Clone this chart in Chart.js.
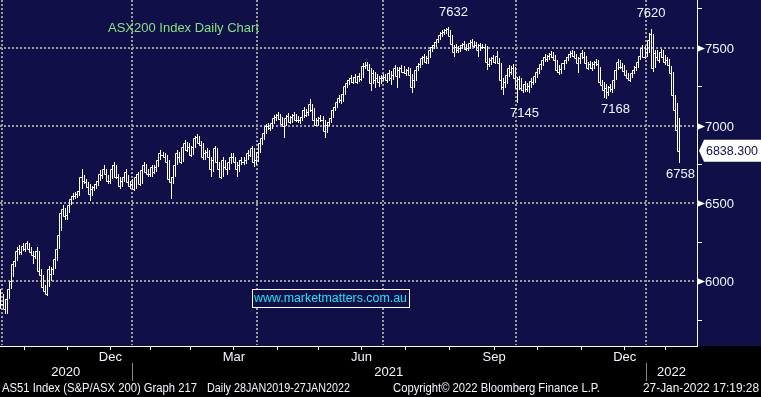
<!DOCTYPE html>
<html><head><meta charset="utf-8">
<script src="https://cdn.jsdelivr.net/npm/chart.js@4"></script>
<style>html,body{margin:0;padding:0;background:#000;}canvas{display:block;}</style>
</head><body>
<canvas id="c" width="761" height="397"></canvas>
<script>
// ---------- DATA ----------
const chartTitle = 'ASX200 Index Daily Chart';
const websiteText = 'www.marketmatters.com.au';
const footerLeft = 'AS51 Index (S&P/ASX 200) Graph 217';
const footerDaily = 'Daily 28JAN2019-27JAN2022';
const footerMid = 'Copyright\u00A9 2022 Bloomberg Finance L.P.';
const footerRight = '27-Jan-2022 17:19:28';

// months covered (Oct 2020 .. Jan 2022), number of ASX trading days each
const monthNames = ['Oct','Nov','Dec','Jan','Feb','Mar','Apr','May','Jun','Jul','Aug','Sep','Oct','Nov','Dec','Jan'];
const monthLabels = ['', '', 'Dec', '', '', 'Mar', '', '', 'Jun', '', '', 'Sep', '', '', 'Dec', ''];
const monthTradingDays = [22,21,21,19,20,23,20,21,21,22,22,22,21,22,21,19];
const yearLabels = ['2020','2021','2022'];
const yTickLabels = [6000, 6500, 7000, 7500];
const yMinorTicks = [5750, 6250, 6750, 7250, 7750];

// daily closes, 30 Sep 2020 .. 27 Jan 2022
const closes = [
5885,5853,5821,5885,5949,6000,6109,6128,6192,6205,6186,6224,6205,6244,6205,6186,6167,6160,6192,6064,6038,5962,5936,
5917,6077,6045,6077,6141,6205,6295,6436,6462,6417,6423,6487,6526,6545,6545,6558,6577,6667,6641,6635,6603,
6558,6590,6603,6622,6641,6692,6680,6718,6686,6641,6647,6718,6750,6673,6667,6609,6641,6673,6705,6635,6615,
6628,6596,6673,6686,6622,6712,6750,6705,6686,6686,6737,6705,6737,6782,6827,6814,6801,6769,6654,
6635,6673,6750,6827,6795,6769,6865,6891,6846,6865,6814,6865,6923,6929,6891,6878,6795,6827,6833,6795,
6718,6782,6853,6763,6718,6667,6782,6737,6718,6763,6795,6795,6769,6718,6750,6782,6769,6782,6821,6814,6853,6769,6782,
6833,6891,6923,6955,7000,6994,6987,7019,7051,7058,7071,7045,7013,7000,7051,7064,7026,7058,7071,7038,
7038,7038,7058,7103,7071,7090,7141,7103,7038,7006,7038,7051,7038,6962,7006,7026,7051,7103,7122,7154,7180,
7167,7205,7256,7276,7295,7308,7282,7314,7282,7320,7301,7385,7385,7391,7359,7276,7340,7295,7308,7282,7308,
7308,7314,7295,7340,7308,7327,7372,7320,7359,7372,7346,7340,7359,7327,7250,7295,7359,7385,7397,7436,7442,7410,
7436,7487,7506,7519,7538,7558,7583,7596,7603,7615,7622,7577,7526,7474,7506,7487,7500,7519,7526,7494,7500,7532,
7538,7513,7519,7487,7519,7506,7506,7410,7397,7423,7436,7410,7449,7404,7295,7250,7282,7327,7372,7346,7372,7308,
7244,7301,7244,7231,7269,7237,7256,7288,7282,7320,7346,7372,7397,7423,7442,7429,7449,7462,7442,7423,7359,
7346,7365,7404,7423,7442,7462,7468,7449,7436,7404,7436,7468,7442,7404,7372,7397,7372,7397,7410,7397,7282,7263,
7231,7244,7218,7250,7237,7295,7359,7410,7378,7378,7353,7327,7308,7295,7340,7359,7378,7410,7449,7500,7442,
7474,7551,7590,7372,7468,7442,7423,7474,7442,7410,7423,7391,7340,7199,7103,6974,6838.3
];
const highs = [
5949,5917,5885,5936,5962,6038,6128,6154,6218,6231,6218,6244,6231,6256,6244,6218,6192,6192,6218,6192,6077,6038,5974,
5962,6096,6090,6103,6154,6218,6308,6442,6487,6474,6449,6500,6545,6564,6571,6583,6596,6718,6680,6654,6635,
6622,6615,6628,6647,6667,6712,6705,6750,6718,6680,6680,6744,6763,6750,6692,6667,6654,6686,6718,6680,6641,
6654,6635,6686,6705,6692,6731,6769,6756,6718,6718,6750,6744,6756,6795,6840,6833,6821,6808,6782,
6667,6692,6763,6840,6833,6808,6878,6910,6897,6885,6872,6878,6936,6949,6936,6904,6885,6846,6859,6846,
6795,6801,6872,6859,6769,6731,6795,6782,6750,6782,6827,6821,6801,6769,6782,6801,6801,6808,6840,6840,6872,6859,6821,
6859,6910,6949,6974,7013,7019,7013,7038,7071,7077,7090,7077,7058,7038,7071,7083,7064,7077,7090,7077,
7064,7058,7077,7122,7109,7109,7173,7141,7115,7051,7058,7071,7064,7038,7026,7051,7071,7122,7141,7173,7199,
7192,7218,7269,7295,7308,7327,7314,7333,7320,7340,7359,7404,7410,7410,7397,7372,7359,7346,7333,7320,7327,
7333,7333,7327,7359,7353,7346,7391,7378,7378,7391,7385,7365,7378,7372,7333,7314,7378,7404,7417,7449,7462,7449,
7455,7506,7519,7538,7551,7577,7603,7615,7622,7628,7632,7615,7583,7519,7526,7513,7519,7532,7545,7526,7519,7551,
7558,7545,7538,7526,7532,7526,7526,7513,7436,7442,7455,7442,7481,7436,7404,7308,7308,7346,7391,7385,7397,7378,
7314,7320,7308,7269,7288,7276,7282,7308,7308,7340,7365,7391,7417,7442,7462,7455,7468,7481,7474,7455,7423,
7391,7391,7423,7442,7462,7481,7487,7481,7462,7442,7455,7487,7474,7449,7410,7417,7410,7417,7429,7423,7378,7295,
7282,7269,7256,7269,7263,7314,7385,7429,7423,7404,7391,7359,7340,7320,7359,7385,7404,7436,7474,7519,7513,
7519,7596,7620,7590,7487,7487,7462,7494,7487,7455,7442,7429,7385,7346,7199,7147,7051
];
const lows = [
5821,5821,5789,5789,5885,5949,6026,6090,6128,6167,6167,6192,6186,6205,6192,6167,6109,6141,6154,6051,5994,5949,5923,
5904,5962,6000,6038,6077,6128,6205,6321,6423,6397,6397,6436,6487,6519,6526,6538,6551,6590,6628,6615,6590,
6513,6551,6583,6596,6615,6647,6660,6686,6667,6628,6628,6654,6705,6660,6647,6596,6603,6635,6667,6615,6596,
6590,6577,6596,6660,6609,6622,6712,6686,6667,6667,6667,6692,6705,6731,6782,6795,6782,6750,6635,
6526,6622,6667,6744,6776,6756,6769,6859,6833,6840,6801,6814,6859,6904,6878,6859,6782,6782,6814,6782,
6667,6705,6782,6750,6705,6654,6667,6718,6680,6712,6756,6769,6750,6673,6705,6744,6750,6756,6776,6795,6801,6737,6750,
6763,6827,6878,6910,6949,6974,6968,6981,7013,7032,7045,7032,7000,6923,6994,7038,7013,7019,7045,7026,
7019,7013,7032,7051,7058,7064,7090,7090,7026,6994,7000,7026,7019,6923,6955,6994,7019,7051,7096,7115,7147,
7141,7154,7199,7244,7263,7276,7269,7276,7269,7282,7288,7308,7365,7365,7346,7224,7269,7244,7282,7250,7269,
7288,7295,7276,7288,7263,7295,7320,7244,7308,7346,7333,7320,7327,7308,7212,7244,7288,7353,7372,7391,7423,7397,
7397,7436,7474,7494,7506,7532,7551,7571,7583,7590,7596,7564,7500,7442,7468,7468,7474,7494,7500,7481,7481,7494,
7513,7500,7494,7442,7481,7494,7487,7359,7378,7391,7404,7397,7404,7391,7231,7199,7244,7269,7314,7327,7333,7244,
7145,7231,7224,7212,7218,7218,7212,7244,7263,7276,7308,7333,7359,7385,7410,7410,7423,7436,7429,7404,7340,
7327,7333,7359,7397,7417,7436,7442,7436,7410,7340,7397,7429,7423,7385,7359,7365,7353,7365,7385,7378,7269,7231,
7180,7168,7192,7218,7212,7237,7295,7359,7365,7359,7333,7308,7295,7282,7308,7333,7353,7372,7423,7455,7429,
7442,7468,7538,7346,7372,7423,7404,7436,7423,7391,7385,7346,7320,7167,7071,6929,6758
];

// labelled extremes
const annotValues = [7632, 7145, 7168, 7620, 6758];
const annotKinds  = ['high', 'low', 'low', 'high', 'low'];

// ---------- STYLE ----------
const NAVY = '#100f48';
const GRID = '#9c9c9c';
const TXT = '#f4f6ff';
const F13 = '13px "Liberation Sans", Arial, sans-serif';
const F12 = '12px "Liberation Sans", Arial, sans-serif';

// month boundaries (index positions between bars); first bar (30 Sep) is index 0
const boundaries = [0.5];
monthTradingDays.forEach(d => boundaries.push(boundaries[boundaries.length - 1] + d));
const quarterStarts = monthNames.map((m, i) => (['Jan','Apr','Jul','Oct'].includes(m) ? i : -1)).filter(i => i >= 0);

const idx = closes.map((_, i) => i);

const deco = {
  id: 'deco',
  beforeDraw(chart) {
    const {ctx, chartArea: a, width, height} = chart;
    ctx.save();
    ctx.fillStyle = '#000';
    ctx.fillRect(0, 0, width, height);
    ctx.fillStyle = NAVY;
    ctx.fillRect(0, 0, width, a.bottom);
    ctx.restore();
  },
  beforeDatasetsDraw(chart) {
    const {ctx, chartArea: a, scales: {x, y}} = chart;
    // dotted grid from the scales
    ctx.save();
    ctx.strokeStyle = GRID; ctx.lineWidth = 2; ctx.setLineDash([2, 2]);
    yTickLabels.forEach(v => {
      const py = Math.round(y.getPixelForValue(v));
      ctx.beginPath(); ctx.moveTo(a.left, py); ctx.lineTo(a.right - 1, py); ctx.stroke();
    });
    quarterStarts.forEach(i => {
      const px = Math.round(x.getPixelForValue(boundaries[i]));
      ctx.beginPath(); ctx.moveTo(px, a.top); ctx.lineTo(px, a.bottom - 1); ctx.stroke();
    });
    ctx.restore();
    // snap bar / line elements to the pixel grid for crisp 1px strokes
    chart.getSortedVisibleDatasetMetas().forEach(meta => {
      meta.data.forEach(el => {
        if (meta.type === 'bar') {
          el.x = Math.floor(el.x) + 0.5;
          el.y = Math.round(el.y); el.base = Math.round(el.base);
        } else {
          el.x = Math.floor(el.x) + 0.5; el.y = Math.round(el.y) + 0.5;
        }
      });
    });
  },
  afterDraw(chart) {
    const {ctx, chartArea: a, scales: {x, y}} = chart;
    ctx.save();
    // y labels + arrow markers
    ctx.font = F13; ctx.textBaseline = 'middle'; ctx.textAlign = 'left';
    yTickLabels.forEach(v => {
      const py = Math.round(y.getPixelForValue(v)) + 0.5;
      ctx.fillStyle = '#fff';
      ctx.beginPath();
      ctx.moveTo(a.right, py - 3.5); ctx.lineTo(a.right, py + 3.5); ctx.lineTo(a.right + 8, py);
      ctx.closePath(); ctx.fill();
      ctx.fillStyle = TXT;
      ctx.fillText(String(v), a.right + 8, py + 0.5);
    });
    // month labels
    ctx.textAlign = 'center';
    monthLabels.forEach((lab, i) => {
      if (!lab) return;
      const cx = (x.getPixelForValue(boundaries[i]) + x.getPixelForValue(boundaries[i + 1])) / 2;
      ctx.fillText(lab, cx, 357);
    });
    // year labels and separators
    const janIdx = monthNames.map((m, i) => m === 'Jan' ? i : -1).filter(i => i >= 0);
    const edges = [x.min, ...janIdx.map(i => boundaries[i]), x.max];
    yearLabels.forEach((lab, i) => {
      const cx = (x.getPixelForValue(edges[i]) + x.getPixelForValue(edges[i + 1])) / 2;
      ctx.fillStyle = TXT;
      ctx.fillText(lab, cx, 372);
    });
    ctx.strokeStyle = '#8a8a8a'; ctx.lineWidth = 1;
    janIdx.forEach(i => {
      const px = Math.round(x.getPixelForValue(boundaries[i])) + 0.5;
      ctx.beginPath(); ctx.moveTo(px, 363); ctx.lineTo(px, 381); ctx.stroke();
    });
    // footer
    ctx.font = F12; ctx.fillStyle = TXT; ctx.textAlign = 'left';
    ctx.fillText(footerLeft, 2, 389, 195);
    ctx.fillText(footerDaily, 207, 389, 143);
    ctx.fillText(footerMid, 393, 389, 207);
    ctx.textAlign = 'right';
    ctx.fillText(footerRight, 759, 389, 116);
    // title
    ctx.font = F13; ctx.textAlign = 'left'; ctx.fillStyle = '#86e086';
    ctx.fillText(chartTitle, 108, 28);
    // website box
    ctx.fillStyle = NAVY;
    ctx.fillRect(252, 289, 158, 19);
    ctx.strokeStyle = '#fff';
    ctx.strokeRect(252.5, 289.5, 157, 18);
    ctx.font = '12.5px "Liberation Sans", Arial, sans-serif';
    ctx.fillStyle = '#22e2f2';
    ctx.fillText(websiteText, 254, 299, 153);
    // extreme annotations
    ctx.font = F13; ctx.textAlign = 'center'; ctx.fillStyle = TXT;
    const offs = [[5, -15], [7, 10], [9, 10], [0, -16], [1, 11]];
    annotValues.forEach((v, k) => {
      const arr = annotKinds[k] === 'high' ? highs : lows;
      const i = arr.indexOf(v);
      if (i < 0) return;
      const px = x.getPixelForValue(i), py = y.getPixelForValue(v);
      ctx.fillText(String(v), px + offs[k][0], py + offs[k][1]);
    });
    // last price tag
    const last = closes[closes.length - 1];
    const ly = y.getPixelForValue(last);
    ctx.fillStyle = '#fff';
    ctx.beginPath();
    ctx.moveTo(a.right + 2, ly);
    ctx.lineTo(a.right + 7, ly - 11);
    ctx.lineTo(761, ly - 11);
    ctx.lineTo(761, ly + 11);
    ctx.lineTo(a.right + 7, ly + 11);
    ctx.closePath(); ctx.fill();
    ctx.fillStyle = NAVY; ctx.textAlign = 'left';
    ctx.fillText(last.toFixed(3), a.right + 9, ly + 0.5, 52);
    ctx.restore();
  }
};

new Chart(document.getElementById('c'), {
  type: 'line',
  data: {
    datasets: [
      {
        type: 'bar',
        data: idx.map(i => ({x: i, y: [lows[i], highs[i]]})),
        backgroundColor: '#ffffff',
        borderWidth: 0,
        barThickness: 1,
        inflateAmount: 0,
        grouped: false,
        order: 2
      },
      {
        type: 'line',
        data: idx.map(i => ({x: i, y: closes[i]})),
        borderColor: '#ffffff',
        borderWidth: 1,
        pointRadius: 0,
        stepped: 'after',
        order: 1
      }
    ]
  },
  options: {
    responsive: false,
    devicePixelRatio: 1,
    animation: false,
    layout: {padding: 0},
    plugins: {legend: {display: false}, tooltip: {enabled: false}},
    scales: {
      x: {
        type: 'linear', min: -0.49, max: 343.67, offset: false,
        afterBuildTicks: s => { s.ticks = boundaries.map(v => ({value: v})); },
        afterFit: s => { s.height = 51; },
        ticks: {display: false},
        grid: {color: 'rgba(0,0,0,0)', lineWidth: 1, tickLength: 4, tickColor: '#ffffff', drawTicks: true},
        border: {display: true, color: '#ffffff', width: 1}
      },
      y: {
        type: 'linear', position: 'right', min: 5585, max: 7806,
        afterBuildTicks: s => { s.ticks = [...yMinorTicks, ...yTickLabels].sort((p, q) => p - q).map(v => ({value: v})); },
        afterFit: s => { s.width = 64; },
        ticks: {display: false},
        grid: {
          color: 'rgba(0,0,0,0)',
          tickColor: c => (c.tick && yTickLabels.includes(c.tick.value)) ? 'rgba(0,0,0,0)' : '#ffffff',
          lineWidth: 1, tickLength: 5, drawTicks: true
        },
        border: {display: true, color: '#ffffff', width: 1}
      }
    }
  },
  plugins: [deco]
});
</script>
</body></html>
